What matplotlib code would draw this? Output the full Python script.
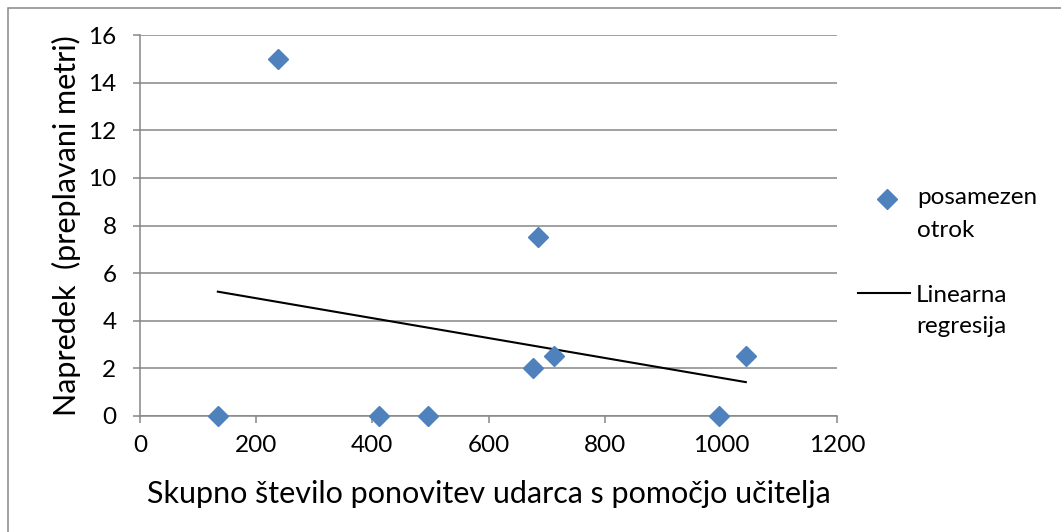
import numpy as np
import matplotlib
matplotlib.use("Agg")
import matplotlib.pyplot as plt
from matplotlib.patches import Rectangle
from matplotlib.lines import Line2D

plt.rcParams['font.family'] = ['Lato', 'DejaVu Sans']

# data
ponovitve = [134, 237, 411, 496, 685, 676, 713, 997, 1043]
napredek = [0, 15, 0, 0, 7.5, 2, 2.5, 0, 2.5]
x_ticks = [0, 200, 400, 600, 800, 1000, 1200]
y_ticks = [0, 2, 4, 6, 8, 10, 12, 14, 16]
x_label = "Skupno število ponovitev udarca s pomočjo učitelja"
y_label = "Napredek  (preplavani metri)"
leg_points = ["posamezen", "otrok"]
leg_line = ["Linearna", "regresija"]

W, H = 1061, 532
fig = plt.figure(figsize=(W / 100, H / 100), dpi=100)
ax = fig.add_axes([140 / W, 1 - 416 / H, (837 - 140) / W, (416 - 35) / H])

grey = '#868686'
blue = '#4F81BD'
fs_tick = 17.5
fs_label = 22

ax.set_xlim(0, 1200)
ax.set_ylim(0, 16)
ax.set_xticks(x_ticks)
ax.set_yticks(y_ticks)
ax.grid(axis='y', color=grey, linewidth=1.1)
ax.set_axisbelow(True)
for s in ['top', 'right']:
    ax.spines[s].set_visible(False)
for s in ['left', 'bottom']:
    ax.spines[s].set_color(grey)
    ax.spines[s].set_linewidth(1.1)
ax.tick_params(axis='both', colors=grey, labelcolor='black', labelsize=fs_tick,
               length=5, width=1.1, direction='out')
ax.tick_params(axis='x', pad=9)
ax.tick_params(axis='y', pad=12)

x = np.array(ponovitve, dtype=float)
y = np.array(napredek, dtype=float)
ax.plot(x, y, linestyle='none', marker='D', markersize=10.5, color=blue,
        clip_on=False, zorder=3)
k, n = np.polyfit(x, y, 1)
xr = np.array([x.min(), x.max()])
ax.plot(xr, k * xr + n, color='black', linewidth=1.5, zorder=2)

ax.set_xlabel(x_label, fontsize=fs_label, labelpad=17)
ax.set_ylabel(y_label, fontsize=fs_label, labelpad=5)

# legend (manual)
fig.add_artist(Line2D([887 / W], [1 - 199 / H], marker='D', markersize=10,
                      color=blue, linestyle='none', transform=fig.transFigure))
for i, t in enumerate(leg_points):
    fig.text(917 / W, 1 - (204 + 33 * i) / H, t, fontsize=fs_tick,
             va='baseline', ha='left')
fig.add_artist(Line2D([858 / W, 910 / W], [1 - 293 / H, 1 - 293 / H],
                      color='black', linewidth=1.5, transform=fig.transFigure))
for i, t in enumerate(leg_line):
    fig.text(916 / W, 1 - (302 + 31 * i) / H, t, fontsize=fs_tick,
             va='baseline', ha='left')

# outer chart border
fig.add_artist(Rectangle((8 / W, -0.1), 1.2, 1 - 8 / H + 0.1, fill=False,
                         edgecolor=grey, linewidth=1.1,
                         transform=fig.transFigure))

fig.savefig("out.png", dpi=100)
